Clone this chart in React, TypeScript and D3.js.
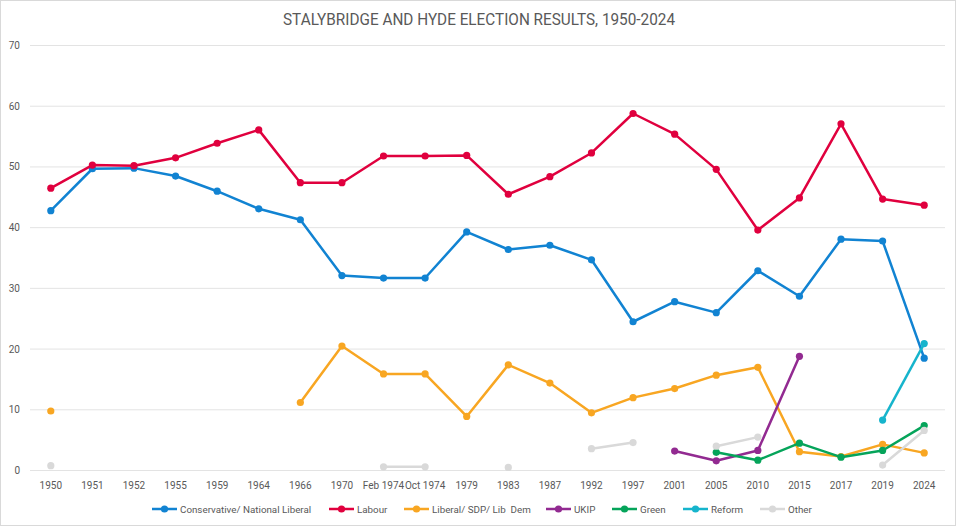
import React from "react";
import * as d3 from "d3";

const categories = ["1950","1951","1952","1955","1959","1964","1966","1970","Feb 1974","Oct 1974","1979","1983","1987","1992","1997","2001","2005","2010","2015","2017","2019","2024"];
const yTicks = [0, 10, 20, 30, 40, 50, 60, 70];

type V = number | null;
const conservative: V[] = [42.8,49.7,49.8,48.5,46.0,43.1,41.3,32.1,31.7,31.7,39.3,36.4,37.1,34.7,24.5,27.8,26.0,32.9,28.7,38.1,37.8,18.5];
const labour: V[] = [46.5,50.3,50.2,51.5,53.9,56.1,47.4,47.4,51.8,51.8,51.9,45.5,48.4,52.3,58.8,55.4,49.6,39.6,44.9,57.1,44.7,43.7];
const liberal: V[] = [9.8,null,null,null,null,null,11.2,20.5,15.9,15.9,8.9,17.4,14.4,9.5,12.0,13.5,15.7,17.0,3.1,2.3,4.3,2.9];
const ukip: V[] = [null,null,null,null,null,null,null,null,null,null,null,null,null,null,null,3.2,1.6,3.3,18.8,null,null,null];
const green: V[] = [null,null,null,null,null,null,null,null,null,null,null,null,null,null,null,null,3.0,1.7,4.5,2.2,3.3,7.4];
const reform: V[] = [null,null,null,null,null,null,null,null,null,null,null,null,null,null,null,null,null,null,null,null,8.3,20.9];
const other: V[] = [0.8,null,null,null,null,null,null,null,0.6,0.6,null,0.5,null,3.6,4.6,null,4.0,5.5,null,null,0.9,6.6];

const seriesNames = ["Conservative/ National Liberal","Labour","Liberal/ SDP/ Lib  Dem","UKIP","Green","Reform","Other"];
const seriesValues = [conservative, labour, liberal, ukip, green, reform, other];
const seriesColors = ["#1183D2","#E0003E","#F8A622","#922A91","#05A45A","#16B4CC","#D9D9D9"];
const legendX = [152, 329, 404, 546, 612, 683, 760];

const W = 960, H = 528;
const FONT = "Roboto, 'Noto Sans', sans-serif";

export default function App() {
  const x = d3.scalePoint<string>().domain(categories).range([30, 945]).padding(0.5);
  const y = d3.scaleLinear().domain([0, 70]).range([470.5, 45.5]);
  const line = d3.line<V>()
    .defined((d) => d !== null)
    .x((_, i) => x(categories[i]) as number)
    .y((d) => y(d as number));

  return (
    <svg width={W} height={H} style={{ position: "absolute", left: 0, top: 0, background: "#fff" }} fontFamily={FONT}>
      <rect x={0.5} y={0.5} width={955} height={525} fill="#fff" stroke="#D9D9D9" />
      <text x={479} y={25} textAnchor="middle" fontSize={16.5} fill="#595959" textLength={392} lengthAdjust="spacingAndGlyphs">
        STALYBRIDGE AND HYDE ELECTION RESULTS, 1950-2024
      </text>
      {yTicks.map((t) => (
        <g key={t}>
          <line x1={30} x2={945} y1={y(t)} y2={y(t)} stroke="#E3E3E3" strokeWidth={1} />
          <text x={20} y={y(t) + 3.5} textAnchor="end" fontSize={10} fill="#595959">{t}</text>
        </g>
      ))}
      {categories.map((c) => (
        <text key={c} x={x(c)} y={489} textAnchor="middle" fontSize={10} fill="#595959">{c}</text>
      ))}
      {seriesValues.map((vals, si) => (
        <g key={si}>
          <path d={line(vals) || ""} fill="none" stroke={seriesColors[si]} strokeWidth={2.5} strokeLinejoin="round" />
          {vals.map((v, i) => v === null ? null : (
            <circle key={i} cx={x(categories[i])} cy={y(v)} r={3.6} fill={seriesColors[si]} />
          ))}
        </g>
      ))}
      {seriesNames.map((n, i) => (
        <g key={n} transform={`translate(${legendX[i]},509)`}>
          <line x1={0} x2={25} y1={0} y2={0} stroke={seriesColors[i]} strokeWidth={2.5} />
          <circle cx={12.5} cy={0} r={3.6} fill={seriesColors[i]} />
          <text x={28} y={3.5} fontSize={9.8} fill="#595959" style={{ whiteSpace: "pre" }}>{n}</text>
        </g>
      ))}
    </svg>
  );
}
